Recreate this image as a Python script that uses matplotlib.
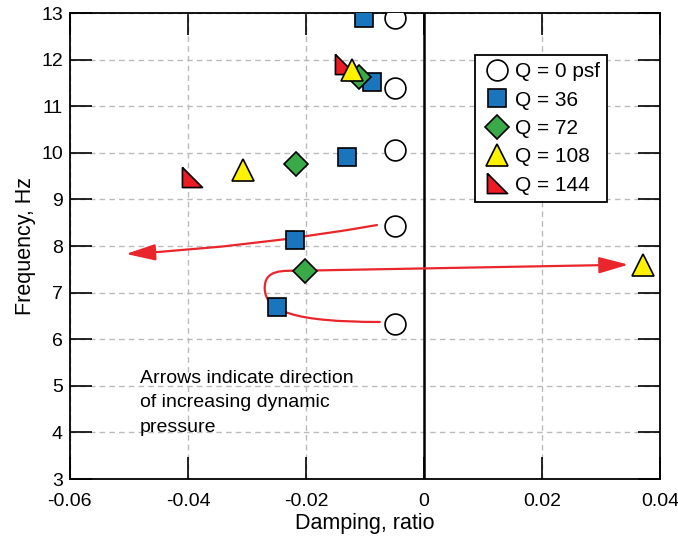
import matplotlib
matplotlib.use("Agg")
import matplotlib.pyplot as plt
from matplotlib.patches import FancyArrowPatch
from matplotlib.path import Path

plt.rcParams["font.family"] = ["Liberation Sans", "DejaVu Sans"]

# modes for each dynamic pressure
q0_x = [-0.005, -0.005, -0.005, -0.005, -0.005]
q0_y = [12.9, 11.4, 10.05, 8.42, 6.32]
q36_x = [-0.0102, -0.0088, -0.013, -0.0219, -0.0249]
q36_y = [12.9, 11.53, 9.9, 8.13, 6.7]
q72_x = [-0.011, -0.0217, -0.0202]
q72_y = [11.63, 9.77, 7.47]
q108_x = [-0.0122, -0.0307, 0.0371]
q108_y = [11.78, 9.63, 7.6]
q144_x = [-0.0134, -0.0393]
q144_y = [11.9, 9.48]
labels = ["Q = 0 psf", "Q = 36", "Q = 72", "Q = 108", "Q = 144"]

# arrow paths (data coords)
arrow1_start = (-0.0080, 8.45)
arrow1_end = (-0.0505, 7.83)
arrow2_pts = [(-0.0075, 6.37), (-0.022, 6.37), (-0.027, 6.6), (-0.027, 7.1),
              (-0.027, 7.5), (-0.024, 7.47), (-0.021, 7.47), (0.0346, 7.6)]

RED = "#e8262b"
right_tri = [(-1, 1), (-1, -1), (1, -1), (-1, 1)]

fig = plt.figure(figsize=(6.78, 5.42), dpi=100)
ax = fig.add_axes([0.103, 0.1162, 0.871, 0.8598])

ax.axvline(0, color="black", lw=1.8, zorder=1)

ax.plot(q0_x, q0_y, "o", ms=15, mfc="white", mec="black", mew=1.2, ls="none", label=labels[0], zorder=5)
ax.plot(q36_x, q36_y, "s", ms=13, mfc="#1a75bc", mec="black", mew=1.2, ls="none", label=labels[1], zorder=5)
ax.plot(q72_x, q72_y, "D", ms=12.5, mfc="#3aaa48", mec="black", mew=1.2, ls="none", label=labels[2], zorder=5)
ax.plot(q108_x, q108_y, "^", ms=16.5, mfc="#fff200", mec="black", mew=1.2, ls="none", label=labels[3], zorder=5)
ax.plot(q144_x, q144_y, marker=right_tri, ms=14.5, mfc="#ed1c24", mec="black", mew=1.2, ls="none", label=labels[4], zorder=4)

head = "-|>,head_length=18,head_width=5"
a1 = FancyArrowPatch(arrow1_start, arrow1_end, arrowstyle=head,
                     connectionstyle="arc3,rad=-0.03", color=RED, lw=1.6, shrinkA=0, shrinkB=0, zorder=3)
ax.add_patch(a1)
codes = [Path.MOVETO, Path.CURVE4, Path.CURVE4, Path.CURVE4,
         Path.CURVE4, Path.CURVE4, Path.CURVE4, Path.LINETO]
a2 = FancyArrowPatch(path=Path(arrow2_pts, codes), arrowstyle=head,
                     color=RED, lw=1.6, transform=ax.transData, zorder=3)
ax.add_patch(a2)

ax.text(-0.0482, 5.35, "Arrows indicate direction\nof increasing dynamic\npressure",
        fontsize=14, va="top", ha="left", linespacing=1.6)

ax.set_xlim(-0.06, 0.04)
ax.set_ylim(3, 13)
ax.set_xticks([-0.06, -0.04, -0.02, 0, 0.02, 0.04])
ax.set_xticklabels(["-0.06", "-0.04", "-0.02", "0", "0.02", "0.04"])
ax.set_yticks(range(3, 14))
ax.grid(True, color="#bbbbbb", ls=(0, (4, 3)), lw=1)
ax.set_axisbelow(True)
ax.tick_params(direction="in", length=16, width=1.2, top=True, right=True, labelsize=14)
ax.tick_params(axis="x", pad=10)
ax.tick_params(axis="y", pad=5)
for s in ax.spines.values():
    s.set_linewidth(1.3)
ax.set_xlabel("Damping, ratio", fontsize=15.5, labelpad=2)
ax.set_ylabel("Frequency, Hz", fontsize=15.5, labelpad=4)

leg = ax.legend(loc="upper left", bbox_to_anchor=(0.686, 0.91), fontsize=15, frameon=True,
                fancybox=False, edgecolor="black", framealpha=1, handletextpad=0.15,
                borderpad=0.35, labelspacing=0.45, handlelength=1.4, borderaxespad=0)
leg.get_frame().set_linewidth(1.3)

fig.savefig("out.png", dpi=100)
